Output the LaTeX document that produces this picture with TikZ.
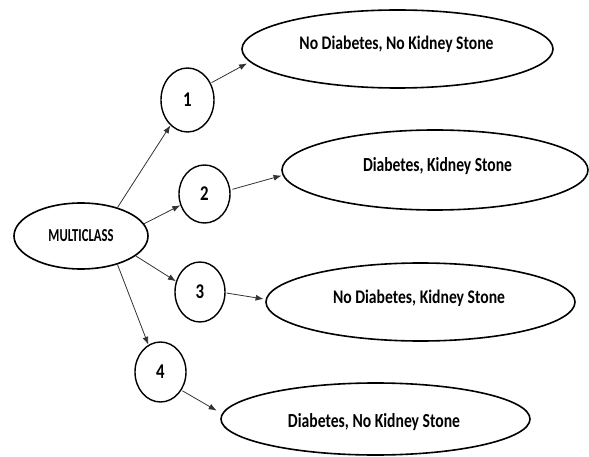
\documentclass[tikz,border=0pt]{standalone}
\usepackage{graphicx}
\usepackage{fontspec}
\setmainfont{Carlito}
\usetikzlibrary{shapes.geometric,arrows.meta}
\tikzset{
  oval/.style={ellipse, draw=black, line width=1.6pt, inner sep=0pt},
  numc/.style={ellipse, draw=black, line width=1.4pt, inner sep=0pt, font=\bfseries},
  txt/.style={inner sep=0pt, anchor=base},
  arr/.style={draw=black!80, line width=0.8pt, -{Latex[length=8pt,width=6pt]}},
}
\begin{document}
\begin{tikzpicture}[x=1pt,y=-1pt]
\useasboundingbox[fill=white] (0,0) rectangle (589,457);
% main node
\node[oval, minimum width=134pt, minimum height=66pt] (mc) at (81,236) {};
\node[txt] (mct) at (81,242) {\bfseries\resizebox{65pt}{12pt}{MULTICLASS}};
% number circles
\node[numc, minimum width=53pt, minimum height=64pt] (c1) at (187.5,100) {\scalebox{0.8}[1]{\fontsize{21}{21}\selectfont 1}};
\node[numc, minimum width=51pt, minimum height=58pt] (c2) at (204.5,194) {\scalebox{0.8}[1]{\fontsize{21}{21}\selectfont 2}};
\node[numc, minimum width=50pt, minimum height=60pt] (c3) at (200,292) {\scalebox{0.8}[1]{\fontsize{21}{21}\selectfont 3}};
\node[numc, minimum width=51pt, minimum height=60pt] (c4) at (160.5,372) {\scalebox{0.8}[1]{\fontsize{21}{21}\selectfont 4}};
% outcome ellipses
\node[oval, minimum width=311pt, minimum height=78pt] (e1) at (397.5,49) {};
\node[oval, minimum width=306pt, minimum height=80pt] (e2) at (435,170) {};
\node[oval, minimum width=309pt, minimum height=78pt] (e3) at (420.5,302) {};
\node[oval, minimum width=309pt, minimum height=72pt] (e4) at (375.5,419) {};
\node[txt] (e1t) at (396.5,50) {\bfseries\resizebox{194pt}{13.5pt}{No Diabetes, No Kidney Stone}};
\node[txt] (e2t) at (437.5,172) {\bfseries\resizebox{149pt}{14pt}{Diabetes, Kidney Stone}};
\node[txt] (e3t) at (419,303) {\bfseries\resizebox{172pt}{13.5pt}{No Diabetes, Kidney Stone}};
\node[txt] (e4t) at (374,427) {\bfseries\resizebox{172pt}{14pt}{Diabetes, No Kidney Stone}};
% connectors
\draw[arr] (mc.38) -- (c1.236);
\draw[arr] (mc.11) -- (c2.205);
\draw[arr] (mc.-20) -- (c3.156);
\draw[arr] (mc.-38) -- (c4.114);
\draw[arr, shorten <=1pt, shorten >=3pt] (c1.36) -- (e1.185);
\draw[arr, shorten <=2pt, shorten >=1pt] (c2.9) -- (e2.182);
\draw[arr, shorten <=1pt, shorten >=2pt] (c3.-2) -- (e3.179);
\draw[arr, shorten <=1pt, shorten >=6pt] (c4.-41) -- (e4.178);
\end{tikzpicture}
\end{document}
